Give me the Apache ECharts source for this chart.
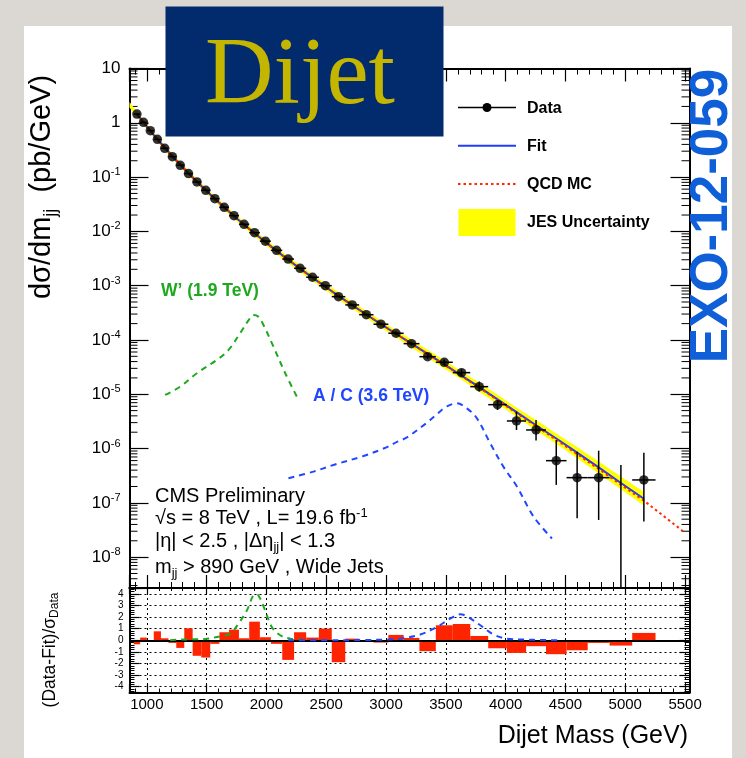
<!DOCTYPE html>
<html><head><meta charset="utf-8">
<script src="https://cdn.jsdelivr.net/npm/echarts@6/dist/echarts.min.js"></script>
<style>html,body{margin:0;padding:0;background:#dbd8d3}#c{width:746px;height:758px}</style>
</head><body><div id="c"></div>
<script>
// ---------------- data ----------------
const binEdges = [890, 944, 1000, 1058, 1118, 1181, 1246, 1313, 1383, 1455, 1530, 1607, 1687, 1770, 1856, 1945, 2037, 2132, 2231, 2332, 2438, 2546, 2659, 2775, 2895, 3019, 3147, 3279, 3416, 3558, 3704, 3854, 4010, 4171, 4337, 4509, 4686, 4869, 5058, 5253];
const dataValues = [1.45, 1.02, 0.716, 0.495, 0.339, 0.238, 0.165, 0.116, 0.0813, 0.0571, 0.0400, 0.0278, 0.0195, 0.0135, 0.00946, 0.00661, 0.00447, 0.00309, 0.00209, 0.00143, 0.00100, 6.27e-4, 4.42e-4, 2.92e-4, 1.95e-4, 1.33e-4, 8.55e-5, 4.92e-5, 3.88e-5, 2.50e-5, 1.38e-5, 6.43e-6, 3.22e-6, 2.20e-6, 5.98e-7, 2.91e-7, 2.91e-7, null, 2.64e-7];
const dataErrLow  = [null,null,null,null,null,null,null,null,null,null,null,null,null,null,null,null,null,null,null,null,null,null,null,null,null, 1.24e-4, 7.9e-5, 4.45e-5, 3.45e-5, 2.15e-5, 1.12e-5, 5.14e-6, 2.20e-6, 1.40e-6, 2.14e-7, 5.20e-8, 4.84e-8, 0, 4.51e-8];
const dataErrHigh = [null,null,null,null,null,null,null,null,null,null,null,null,null,null,null,null,null,null,null,null,null,null,null,null,null, 1.43e-4, 9.2e-5, 5.45e-5, 4.35e-5, 2.9e-5, 1.71e-5, 7.85e-6, 4.79e-6, 3.37e-6, 1.44e-6, 8.77e-7, 9.14e-7, 4.99e-7, 8.41e-7];
const fitValues = [1.445, 1.014, 0.710, 0.497, 0.347, 0.242, 0.169, 0.118, 0.0822, 0.0573, 0.0398, 0.0277, 0.0192, 0.0133, 0.00920, 0.00635, 0.00438, 0.00301, 0.00206, 0.00141, 9.57e-4, 6.49e-4, 4.38e-4, 2.94e-4, 1.96e-4, 1.30e-4, 8.55e-5, 5.56e-5, 3.55e-5, 2.21e-5, 1.35e-5, 8.04e-6, 4.68e-6, 2.69e-6, 1.53e-6, 8.41e-7, 4.49e-7, 2.32e-7, 1.19e-7];
const qcdMass = [917, 972, 1029, 1088, 1149.5, 1213.5, 1279.5, 1348, 1419, 1492.5, 1568.5, 1647, 1728.5, 1813, 1900.5, 1991, 2084.5, 2181.5, 2281.5, 2385, 2492, 2602.5, 2717, 2835, 2957, 3083, 3213, 3347.5, 3487, 3631, 3779, 3932, 4090.5, 4254, 4423, 4597.5, 4777.5, 4963.5, 5155.5, 5354, 5487];
const qcdValues = [1.445, 1.014, 0.710, 0.497, 0.347, 0.242, 0.169, 0.118, 0.0822, 0.0573, 0.0398, 0.0277, 0.0192, 0.0133, 0.00920, 0.00635, 0.00438, 0.00301, 0.00206, 0.00141, 9.57e-4, 6.49e-4, 4.38e-4, 2.94e-4, 1.96e-4, 1.30e-4, 8.5e-5, 5.50e-5, 3.50e-5, 2.17e-5, 1.32e-5, 7.8e-6, 4.5e-6, 2.58e-6, 1.45e-6, 7.9e-7, 4.2e-7, 2.15e-7, 1.10e-7, 5.0e-8, 2.95e-8];
const jesMass = [855, 917, 972, 1029, 1088, 1149.5, 1213.5, 1279.5, 1348, 1419, 1492.5, 1568.5, 1647, 1728.5, 1813, 1900.5, 1991, 2084.5, 2181.5, 2281.5, 2385, 2492, 2602.5, 2717, 2835, 2957, 3083, 3213, 3347.5, 3487, 3631, 3779, 3932, 4090.5, 4254, 4423, 4597.5, 4777.5, 4963.5, 5155.5];
const jesLow  = [1.914, 1.288, 0.904, 0.632, 0.443, 0.309, 0.216, 0.151, 0.105, 0.0733, 0.0511, 0.0355, 0.0244, 0.0169, 0.0117, 0.00811, 0.00560, 0.00381, 0.00262, 0.00179, 0.00122, 8.34e-4, 5.58e-4, 3.77e-4, 2.53e-4, 1.69e-4, 1.12e-4, 7.19e-5, 4.68e-5, 2.99e-5, 1.86e-5, 1.11e-5, 6.61e-6, 3.85e-6, 2.16e-6, 1.23e-6, 6.61e-7, 3.48e-7, 1.77e-7, 8.91e-8];
const jesHigh = [2.410, 1.622, 1.138, 0.796, 0.557, 0.389, 0.272, 0.190, 0.132, 0.0923, 0.0643, 0.0447, 0.0314, 0.0218, 0.0151, 0.01045, 0.00721, 0.00502, 0.00345, 0.00237, 0.00161, 1.10e-3, 7.53e-4, 5.08e-4, 3.41e-4, 2.28e-4, 1.51e-4, 1.02e-4, 6.61e-5, 4.22e-5, 2.63e-5, 1.64e-5, 9.77e-6, 5.69e-6, 3.35e-6, 1.90e-6, 1.07e-6, 5.78e-7, 3.05e-7, 1.58e-7];
const wprimeMass = [1153, 1278, 1418, 1585, 1683, 1780, 1850, 1892, 1930, 1975, 2059, 2157, 2268];
const wprimeValues = [9.7e-6, 1.38e-5, 2.44e-5, 4.29e-5, 6.55e-5, 1.33e-4, 2.3e-4, 2.88e-4, 2.7e-4, 1.89e-4, 7.5e-5, 2.44e-5, 7.86e-6];
const coloronMass = [2184, 2393, 2561, 2812, 2979, 3100, 3174, 3342, 3430, 3509, 3592, 3676, 3760, 3871, 3982, 4094, 4233, 4387];
const coloronValues = [2.84e-7, 3.76e-7, 4.99e-7, 7.3e-7, 1.0e-6, 1.35e-6, 1.6e-6, 3.0e-6, 4.4e-6, 6.0e-6, 6.8e-6, 5.5e-6, 3.6e-6, 1.25e-6, 4.6e-7, 2.0e-7, 5.6e-8, 2.2e-8];
const residuals = [-0.35, 0.23, 0.0, 0.77, 0.17, -0.23, -0.66, 1.03, -1.34, -1.49, -0.31, 0.69, 0.91, 0.17, 1.6, 0.26, -0.31, -1.69, 0.69, 0.23, 1.0, -1.89, 0.14, -0.11, -0.2, 0.46, 0.2, -0.94, 1.29, 1.4, 0.37, -0.69, -1.09, -0.51, -1.2, -0.86, -0.23, -0.46, 0.63];
const wprimeResMass = [1195, 1278, 1400, 1488, 1613, 1697, 1766, 1836, 1906, 1933, 1989, 2045, 2115, 2198, 2282];
const wprimeResValues = [0.0, 0.06, 0.08, 0.11, 0.34, 0.57, 1.43, 2.57, 3.94, 3.86, 2.57, 1.14, 0.43, 0.14, 0.06];
const coloronResMass = [2182, 2500, 2800, 3000, 3118, 3285, 3425, 3536, 3620, 3676, 3788, 3899, 4011, 4150, 4300, 4430];
const coloronResValues = [0.0, 0.0, 0.02, 0.06, 0.14, 0.49, 1.14, 1.86, 2.23, 2.06, 1.29, 0.49, 0.14, 0.06, 0.02, 0.0];
const xTickLabels = [1000, 1500, 2000, 2500, 3000, 3500, 4000, 4500, 5000, 5500];
const yDecadeExps = [-8, -7, -6, -5, -4, -3, -2, -1, 0, 1];
const yDecadeLabels = ['10{e|-8}', '10{e|-7}', '10{e|-6}', '10{e|-5}', '10{e|-4}', '10{e|-3}', '10{e|-2}', '10{e|-1}', '1', '10'];
const resTickLabels = [-4, -3, -2, -1, 0, 1, 2, 3, 4];

// ---------------- chart ----------------
const FONT = '"Liberation Sans", Arial, Helvetica, sans-serif';
const X_MIN = 855, X_MAX = 5537;
const Y_MIN = 2.7e-9, Y_MAX = 10;
const binCentres = binEdges.slice(0, -1).map((e, i) => (e + binEdges[i + 1]) / 2);

// minor ticks of the logarithmic axis (2..9 x 10^n) – axis decoration only
const logMinorTicks = [];
for (let n = -9; n <= 0; n++) for (let k = 2; k <= 9; k++) {
  const v = k * Math.pow(10, n);
  if (v > Y_MIN && v < Y_MAX) logMinorTicks.push(v);
}

const chart = echarts.init(document.getElementById('c'), null, {renderer: 'canvas'});

function xAxisCfg(grid, pos, showLabels, major, minor) {
  return {
    type: 'value', gridIndex: grid, position: pos, min: X_MIN, max: X_MAX,
    minInterval: 500, maxInterval: 500, splitNumber: 9,
    axisLine: {show: true, onZero: false, lineStyle: {color: '#000', width: 2}},
    axisTick: {show: true, inside: true, length: major, lineStyle: {color: '#000', width: 1.2}},
    minorTick: {show: true, splitNumber: 5, length: minor, lineStyle: {color: '#000', width: 1}},
    axisLabel: {show: showLabels, color: '#000', fontFamily: FONT, fontSize: 15, margin: 5,
      showMinLabel: false, showMaxLabel: true,
      formatter: v => xTickLabels.indexOf(Math.round(v)) >= 0 && Math.abs(v - Math.round(v)) < 1e-6 ? String(Math.round(v)) : ''},
    splitLine: {show: grid === 1 && pos === 'bottom', lineStyle: {color: '#000', width: 1, type: [2, 3]}}
  };
}
function yLogCfg(pos, showLabels) {
  return {
    type: 'log', logBase: 10, gridIndex: 0, position: pos, min: Y_MIN, max: Y_MAX, splitNumber: 10,
    axisLine: {show: true, onZero: false, lineStyle: {color: '#000', width: 2}},
    axisTick: {show: true, inside: true, length: 19, lineStyle: {color: '#000', width: 1.2}},
    minorTick: {show: false},
    splitLine: {show: false},
    axisLabel: {show: showLabels, color: '#000', fontFamily: FONT, fontSize: 17, margin: 9,
      formatter: v => {
        const e = Math.log10(v), r = Math.round(e);
        const k = yDecadeExps.indexOf(r);
        return (Math.abs(e - r) < 1e-6 && k >= 0) ? yDecadeLabels[k] : '';
      },
      rich: {e: {fontSize: 11, fontFamily: FONT, color: '#000', padding: [0, 0, 10, 0]}}
    }
  };
}
function yResCfg(pos, showLabels) {
  return {
    type: 'value', gridIndex: 1, position: pos, min: -4.5, max: 4.5,
    minInterval: 1, maxInterval: 1, splitNumber: 9,
    axisLine: {show: true, onZero: false, lineStyle: {color: '#000', width: 2}},
    axisTick: {show: true, inside: true, length: 10, lineStyle: {color: '#000', width: 1.2}},
    minorTick: {show: true, splitNumber: 5, length: 5, lineStyle: {color: '#000', width: 1}},
    splitLine: {show: pos === 'left', lineStyle: {color: '#000', width: 1, type: [2, 3]}},
    axisLabel: {show: showLabels, color: '#000', fontFamily: FONT, fontSize: 10, margin: 6,
      showMinLabel: false, showMaxLabel: false,
      formatter: v => resTickLabels.indexOf(v) >= 0 ? String(v) : ''}
  };
}

function renderBand(params, api) {
  const up = jesMass.map((m, i) => api.coord([m, jesHigh[i]]));
  const lo = jesMass.map((m, i) => api.coord([m, jesLow[i]])).reverse();
  return {type: 'polygon', shape: {points: up.concat(lo)}, style: {fill: '#ffff00', stroke: 'none'}};
}
function renderErrors(params, api) {
  const i = params.dataIndex;
  const cs = params.coordSys;
  const lo = binEdges[i], hi = binEdges[i + 1], xc = binCentres[i];
  const children = [];
  const st = {stroke: '#000', lineWidth: 1.5};
  if (dataValues[i] != null) {
    const a = api.coord([lo, dataValues[i]]), b = api.coord([hi, dataValues[i]]);
    children.push({type: 'line', shape: {x1: a[0], y1: a[1], x2: b[0], y2: b[1]}, style: st});
  }
  if (dataErrHigh[i] != null) {
    const t = api.coord([xc, dataErrHigh[i]]);
    const yb = dataErrLow[i] > 0 ? api.coord([xc, dataErrLow[i]])[1] : cs.y + cs.height;
    children.push({type: 'line', shape: {x1: t[0], y1: t[1], x2: t[0], y2: yb}, style: st});
  }
  return {type: 'group', children};
}
function renderResiduals(params, api) {
  const i = params.dataIndex;
  const a = api.coord([binEdges[i], 0]), b = api.coord([binEdges[i + 1], residuals[i]]);
  return {type: 'rect', shape: {x: a[0], y: Math.min(a[1], b[1]), width: b[0] - a[0], height: Math.abs(b[1] - a[1])},
    style: {fill: '#ff2400', stroke: 'none'}};
}
function renderLogMinor(params, api) {
  const cs = params.coordSys;
  const y = api.coord([(X_MIN + X_MAX) / 2, logMinorTicks[params.dataIndex]])[1];
  const st = {stroke: '#000', lineWidth: 1};
  return {type: 'group', children: [
    {type: 'line', shape: {x1: cs.x, y1: y, x2: cs.x + 8, y2: y}, style: st},
    {type: 'line', shape: {x1: cs.x + cs.width - 8, y1: y, x2: cs.x + cs.width, y2: y}, style: st}
  ]};
}

const pairs = (xs, ys) => xs.map((x, i) => [x, ys[i]]);

const option = {
  animation: false,
  backgroundColor: '#dbd8d3',
  grid: [
    {left: 129.5, top: 68.5, width: 560, height: 519.5, show: true, backgroundColor: '#ffffff', borderWidth: 0},
    {left: 129.5, top: 588, width: 560, height: 104.5, show: true, backgroundColor: '#ffffff', borderWidth: 0}
  ],
  xAxis: [
    xAxisCfg(0, 'bottom', false, 13, 6),
    xAxisCfg(0, 'top', false, 13, 6),
    xAxisCfg(1, 'bottom', true, 8, 4),
    xAxisCfg(1, 'top', false, 6, 3)
  ],
  yAxis: [
    yLogCfg('left', true),
    yLogCfg('right', false),
    yResCfg('left', true),
    yResCfg('right', false)
  ],
  series: [
    {type: 'custom', name: 'LogMinorTicks', xAxisIndex: 0, yAxisIndex: 0, z: 1, silent: true, renderItem: renderLogMinor,
      data: logMinorTicks.map(v => [(X_MIN + X_MAX) / 2, v]), encode: {x: 0, y: 1}},
    {type: 'custom', name: 'JES', xAxisIndex: 0, yAxisIndex: 0, z: 1, renderItem: renderBand,
      data: [[jesMass[0], jesHigh[0]]], encode: {x: 0, y: 1}, silent: true},
    {type: 'line', name: 'QCD MC', xAxisIndex: 0, yAxisIndex: 0, z: 4, showSymbol: false, symbol: 'none',
      data: pairs(qcdMass, qcdValues), lineStyle: {color: '#ff2a00', width: 2, type: [2.5, 3]}},
    {type: 'line', name: 'Fit', xAxisIndex: 0, yAxisIndex: 0, z: 3, showSymbol: false, symbol: 'none',
      data: pairs(binCentres, fitValues), lineStyle: {color: '#1f3cff', width: 2}},
    {type: 'line', name: 'Wprime', xAxisIndex: 0, yAxisIndex: 0, z: 2, symbol: 'none', smooth: 0.35,
      data: pairs(wprimeMass, wprimeValues), lineStyle: {color: '#1ea81e', width: 2, type: [6, 5]}},
    {type: 'line', name: 'Coloron', xAxisIndex: 0, yAxisIndex: 0, z: 2, symbol: 'none', smooth: 0.35,
      data: pairs(coloronMass, coloronValues), lineStyle: {color: '#2046ff', width: 2, type: [6, 5]}},
    {type: 'custom', name: 'DataErr', xAxisIndex: 0, yAxisIndex: 0, z: 5, renderItem: renderErrors,
      data: binCentres.map((c, i) => [c, dataValues[i] != null ? dataValues[i] : dataErrHigh[i]]), encode: {x: 0, y: 1}},
    {type: 'scatter', name: 'Data', xAxisIndex: 0, yAxisIndex: 0, z: 6, symbol: 'circle', symbolSize: 9.5,
      itemStyle: {color: '#000'}, data: pairs(binCentres, dataValues).filter(p => p[1] != null)},
    {type: 'custom', name: 'Residuals', xAxisIndex: 2, yAxisIndex: 2, z: 2, renderItem: renderResiduals,
      data: pairs(binCentres, residuals), encode: {x: 0, y: 1}},
    {type: 'line', name: 'WprimeRes', xAxisIndex: 2, yAxisIndex: 2, z: 4, symbol: 'none', smooth: 0.35,
      data: pairs(wprimeResMass, wprimeResValues), lineStyle: {color: '#1ea81e', width: 2, type: [6, 5]},
      markLine: {silent: true, symbol: 'none', label: {show: false}, z: 3,
        lineStyle: {color: '#000', width: 2, type: 'solid'}, data: [{yAxis: 0}]}},
    {type: 'line', name: 'ColoronRes', xAxisIndex: 2, yAxisIndex: 2, z: 4, symbol: 'none', smooth: 0.35,
      data: pairs(coloronResMass, coloronResValues), lineStyle: {color: '#2046ff', width: 2, type: [6, 5]}}
  ],
  graphic: {elements: [
    {type: 'rect', z: -100, shape: {x: 24, y: 26, width: 708, height: 732}, style: {fill: '#ffffff'}},
    // legend
    {type: 'line', z: 50, shape: {x1: 458, y1: 107.5, x2: 516, y2: 107.5}, style: {stroke: '#000', lineWidth: 1.5}},
    {type: 'circle', z: 50, shape: {cx: 487, cy: 107.5, r: 4.5}, style: {fill: '#000'}},
    {type: 'text', z: 50, x: 527, y: 109, style: {text: 'Data', fontFamily: FONT, fontSize: 16, fontWeight: 'bold', fill: '#000', verticalAlign: 'middle'}},
    {type: 'line', z: 50, shape: {x1: 458, y1: 145.7, x2: 516, y2: 145.7}, style: {stroke: '#1f3cff', lineWidth: 2}},
    {type: 'text', z: 50, x: 527, y: 147, style: {text: 'Fit', fontFamily: FONT, fontSize: 16, fontWeight: 'bold', fill: '#000', verticalAlign: 'middle'}},
    {type: 'line', z: 50, shape: {x1: 458, y1: 184, x2: 516, y2: 184}, style: {stroke: '#ff2a00', lineWidth: 2, lineDash: [2.5, 3]}},
    {type: 'text', z: 50, x: 527, y: 185, style: {text: 'QCD MC', fontFamily: FONT, fontSize: 16, fontWeight: 'bold', fill: '#000', verticalAlign: 'middle'}},
    {type: 'rect', z: 50, shape: {x: 458.5, y: 209, width: 57, height: 27}, style: {fill: '#ffff00'}},
    {type: 'text', z: 50, x: 527, y: 223, style: {text: 'JES Uncertainty', fontFamily: FONT, fontSize: 16, fontWeight: 'bold', fill: '#000', verticalAlign: 'middle'}},
    // signal labels
    {type: 'text', z: 50, x: 161, y: 291, style: {text: 'W\u2019 (1.9 TeV)', fontFamily: FONT, fontSize: 17.5, fontWeight: 'bold', fill: '#1ea81e', verticalAlign: 'middle'}},
    {type: 'text', z: 50, x: 313, y: 396, style: {text: 'A / C (3.6 TeV)', fontFamily: FONT, fontSize: 17.5, fontWeight: 'bold', fill: '#2046ff', verticalAlign: 'middle'}},
    // CMS text block
    {type: 'text', z: 50, x: 155, y: 496, style: {text: 'CMS Preliminary', fontFamily: FONT, fontSize: 20, fill: '#000', verticalAlign: 'middle'}},
    {type: 'text', z: 50, x: 155, y: 518, style: {text: '\u221As = 8 TeV , L= 19.6 fb{e|-1}', fontFamily: FONT, fontSize: 20, fill: '#000', verticalAlign: 'middle',
      rich: {e: {fontSize: 13, fontFamily: FONT, padding: [0, 0, 10, 0]}}}},
    {type: 'text', z: 50, x: 155, y: 541, style: {text: '|\u03b7| < 2.5 , |\u0394\u03b7{s|jj}| < 1.3', fontFamily: FONT, fontSize: 20, fill: '#000', verticalAlign: 'middle',
      rich: {s: {fontSize: 13, fontFamily: FONT, padding: [12, 0, 0, 0]}}}},
    {type: 'text', z: 50, x: 155, y: 567, style: {text: 'm{s|jj} > 890 GeV , Wide Jets', fontFamily: FONT, fontSize: 20, fill: '#000', verticalAlign: 'middle',
      rich: {s: {fontSize: 13, fontFamily: FONT, padding: [12, 0, 0, 0]}}}},
    // axis titles
    {type: 'text', z: 50, x: 42, y: 187, rotation: Math.PI / 2, style: {text: 'd\u03c3/dm{s|jj}  (pb/GeV)', fontFamily: FONT, fontSize: 29, fill: '#000', align: 'center', verticalAlign: 'middle',
      rich: {s: {fontSize: 18, fontFamily: FONT, padding: [18, 0, 0, 0]}}}},
    {type: 'text', z: 50, x: 50, y: 650, rotation: Math.PI / 2, style: {text: '(Data-Fit)/\u03c3{s|Data}', fontFamily: FONT, fontSize: 17.5, fill: '#000', align: 'center', verticalAlign: 'middle',
      rich: {s: {fontSize: 12, fontFamily: FONT, padding: [10, 0, 0, 0]}}}},
    {type: 'text', z: 50, x: 688, y: 736, style: {text: 'Dijet Mass (GeV)', fontFamily: FONT, fontSize: 25, fill: '#000', align: 'right', verticalAlign: 'middle'}},
    // EXO label
    {type: 'text', z: 60, x: 712, y: 216, rotation: Math.PI / 2, style: {text: 'EXO-12-059', fontFamily: FONT, fontSize: 53, fontWeight: 'bold', fill: '#0f60d8', align: 'center', verticalAlign: 'middle'}},
    // Dijet title box
    {type: 'rect', z: 100, shape: {x: 165.5, y: 6.5, width: 278, height: 130}, style: {fill: '#022b6d'}},
    {type: 'text', z: 101, x: 205, y: 78, style: {text: 'Dijet', fontFamily: '"Liberation Serif", "Times New Roman", serif', fontSize: 95, fill: '#c4b600', verticalAlign: 'middle'}}
  ]}
};
chart.setOption(option);
</script></body></html>
